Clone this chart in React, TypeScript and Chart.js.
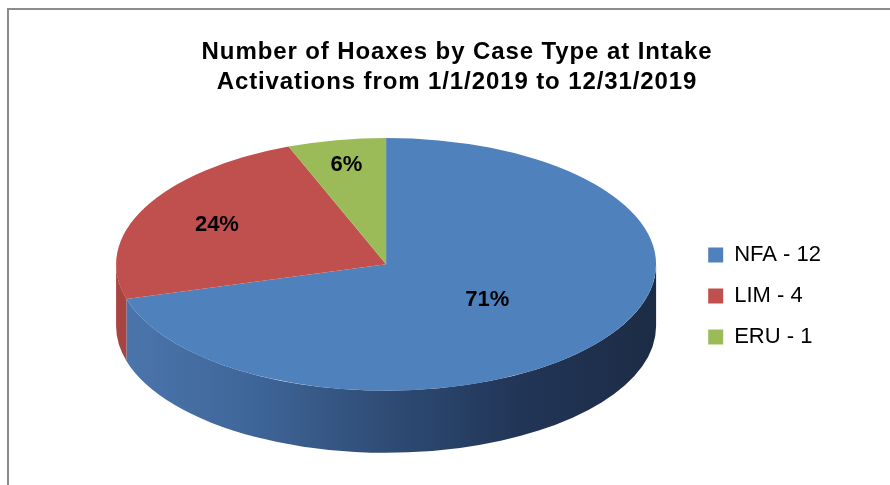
import React, { useEffect, useRef } from "react";
import { Chart, registerables } from "chart.js";

Chart.register(...registerables);

const TITLE_LINES = [
  "Number of Hoaxes by Case Type at Intake",
  "Activations from 1/1/2019 to 12/31/2019",
];
const CATEGORIES = ["NFA", "LIM", "ERU"];
const COUNTS = [12, 4, 1];
const TOP_COLORS = ["#4f81bd", "#c0504d", "#9bbb59"];
const SIDE_COLORS = [
  ["#4b76ad", "#3f6699", "#2f4c75", "#213557", "#1d2c45"],
  ["#a84442", "#8e3836", "#6e2a29"],
  ["#87a84c", "#6e8a3c", "#556b2e"],
];
const LABEL_RADIUS = [0.47, 0.7, 0.8];

const FONT_FAMILY = "'Liberation Sans', Arial, sans-serif";
const TITLE_LETTER_SPACING = "0.9px";
const PIE_VIEW = { radiusX: 270, tilt: 0.468, depth: 62, topGap: 31 };

function geometry(chart: any) {
  const arc = chart.getDatasetMeta(0).data[0];
  const rx = PIE_VIEW.radiusX;
  const ry = rx * PIE_VIEW.tilt;
  return {
    x: arc.x,
    y: arc.y,
    r: arc.outerRadius,
    cx: arc.x,
    cy: chart.chartArea.top + PIE_VIEW.topGap + ry,
    rx,
    ry,
    depth: PIE_VIEW.depth,
  };
}

const pie3d = {
  id: "pie3d",
  beforeDatasetsDraw(chart: any) {
    const ctx = chart.ctx;
    const g = geometry(chart);
    const arcs = chart.getDatasetMeta(0).data;
    ctx.save();
    arcs.forEach((arc: any, i: number) => {
      const s = arc.startAngle;
      const e = arc.endAngle;
      for (let k = -1; k <= 1; k++) {
        const lo = Math.max(s, 2 * Math.PI * k);
        const hi = Math.min(e, 2 * Math.PI * k + Math.PI);
        if (hi <= lo) continue;
        const grad = ctx.createLinearGradient(g.cx - g.rx, 0, g.cx + g.rx, 0);
        const stops = SIDE_COLORS[i];
        stops.forEach((c, j) => grad.addColorStop(j / (stops.length - 1), c));
        ctx.beginPath();
        ctx.ellipse(g.cx, g.cy, g.rx, g.ry, 0, lo, hi, false);
        ctx.ellipse(g.cx, g.cy + g.depth, g.rx, g.ry, 0, hi, lo, true);
        ctx.closePath();
        ctx.fillStyle = grad;
        ctx.fill();
      }
    });
    ctx.translate(g.cx, g.cy);
    ctx.scale(g.rx / g.r, g.ry / g.r);
    ctx.translate(-g.x, -g.y);
  },
  afterDatasetsDraw(chart: any) {
    const ctx = chart.ctx;
    ctx.restore();
    const g = geometry(chart);
    const arcs = chart.getDatasetMeta(0).data;
    const total = COUNTS.reduce((a, b) => a + b, 0);
    ctx.save();
    ctx.font = `bold 22px ${FONT_FAMILY}`;
    ctx.fillStyle = "#000";
    ctx.textAlign = "center";
    ctx.textBaseline = "middle";
    arcs.forEach((arc: any, i: number) => {
      const mid = (arc.startAngle + arc.endAngle) / 2;
      const f = LABEL_RADIUS[i];
      ctx.fillText(
        `${Math.round((COUNTS[i] / total) * 100)}%`,
        g.cx + g.rx * f * Math.cos(mid),
        g.cy + g.ry * f * Math.sin(mid)
      );
    });
    ctx.restore();
  },
};

export default function App() {
  const ref = useRef<HTMLCanvasElement | null>(null);
  useEffect(() => {
    if (!ref.current) return;
    const chart = new Chart(ref.current, {
      type: "pie",
      data: {
        labels: CATEGORIES.map((c, i) => `${c} - ${COUNTS[i]}`),
        datasets: [
          {
            data: COUNTS,
            backgroundColor: TOP_COLORS,
            borderWidth: 0,
            clip: false as any,
          },
        ],
      },
      options: {
        responsive: false,
        animation: false,
        layout: { padding: { left: 83, right: 59, top: 0, bottom: 0 } },
        plugins: {
          title: {
            display: true,
            text: TITLE_LINES,
            color: "#000",
            font: { family: FONT_FAMILY, size: 24, weight: "bold", lineHeight: 1.25 },
            padding: { top: 37, bottom: 10 },
          },
          legend: {
            display: true,
            position: "right",
            align: "center",
            fullSize: false,
            labels: {
              color: "#000",
              font: { family: FONT_FAMILY, size: 22 },
              boxWidth: 15,
              boxHeight: 15,
              padding: 19,
            },
          },
          tooltip: { enabled: false },
        },
      },
      plugins: [pie3d],
    });
    const tb = (chart as any).titleBlock;
    if (tb) {
      const orig = tb.draw.bind(tb);
      tb.draw = (area: any) => {
        const c = chart.ctx as any;
        c.save();
        c.letterSpacing = TITLE_LETTER_SPACING;
        orig(area);
        c.restore();
      };
      chart.draw();
    }
    return () => chart.destroy();
  }, []);
  return (
    <div style={{ position: "absolute", left: 0, top: 0, width: 890, height: 485, overflow: "hidden", background: "#fff" }}>
      <div
        style={{
          position: "absolute",
          left: 7,
          top: 8,
          width: 1000,
          height: 1000,
          border: "2px solid #8c8c8c",
        }}
      />
      <canvas
        ref={ref}
        width={890}
        height={485}
        style={{ position: "absolute", left: 0, top: 0, width: 890, height: 485 }}
      />
    </div>
  );
}
